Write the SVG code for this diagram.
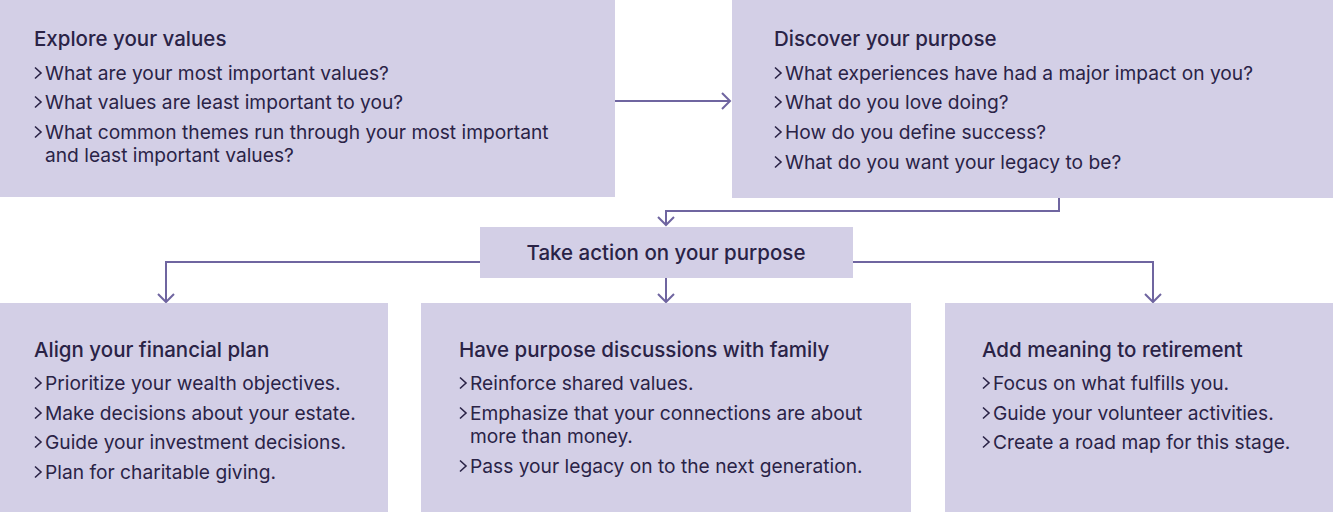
<svg xmlns="http://www.w3.org/2000/svg" width="1333" height="512" viewBox="0 0 1333 512">
<style>
.box{fill:#d3cfe6}
.t{font-family:Inter,"Noto Sans",sans-serif;font-size:20.5px;font-weight:500;fill:#2a2346}
.i{font-family:Inter,"Noto Sans",sans-serif;font-size:19.2px;fill:#2a2346}
.v{fill:none;stroke:#2a2346;stroke-width:1.6}
.c{fill:none;stroke:#6f65a0;stroke-width:2}
</style>
<defs>
<marker id="a" markerWidth="20" markerHeight="20" refX="10" refY="10" orient="auto" markerUnits="userSpaceOnUse"><path d="M2,2 L10,10 L2,18" fill="none" stroke="#6f65a0" stroke-width="2"/></marker>
<path id="ch" d="M0,-12.5 L6,-7 L0,-1.5"/>
</defs>
<g id="connectors">
<path class="c" d="M615,101 H730" marker-end="url(#a)"/>
<path class="c" d="M1059,198 V211 H666 V225" marker-end="url(#a)"/>
<path class="c" d="M480,262 H166 V302" marker-end="url(#a)"/>
<path class="c" d="M666,278 V302" marker-end="url(#a)"/>
<path class="c" d="M853,262 H1153 V302" marker-end="url(#a)"/>
</g>
<g id="explore"><rect class="box" x="0" y="0" width="615" height="197"/>
<text class="t" x="34" y="46">Explore your values</text>
<use href="#ch" class="v" x="35" y="80"/><text class="i" x="45" y="80">What are your most important values?</text>
<use href="#ch" class="v" x="35" y="109"/><text class="i" x="45" y="109">What values are least important to you?</text>
<use href="#ch" class="v" x="35" y="139"/><text class="i" x="45" y="139">What common themes run through your most important</text>
<text class="i" x="45" y="162">and least important values?</text></g>
<g id="discover"><rect class="box" x="732" y="0" width="601" height="198"/>
<text class="t" x="774" y="46">Discover your purpose</text>
<use href="#ch" class="v" x="775" y="80"/><text class="i" x="785" y="80">What experiences have had a major impact on you?</text>
<use href="#ch" class="v" x="775" y="109"/><text class="i" x="785" y="109">What do you love doing?</text>
<use href="#ch" class="v" x="775" y="139"/><text class="i" x="785" y="139">How do you define success?</text>
<use href="#ch" class="v" x="775" y="169"/><text class="i" x="785" y="169">What do you want your legacy to be?</text></g>
<g id="action"><rect class="box" x="480" y="227" width="373" height="51"/>
<text class="t" x="666" y="260" text-anchor="middle">Take action on your purpose</text></g>
<g id="align"><rect class="box" x="0" y="303" width="388" height="209"/>
<text class="t" x="34" y="357">Align your financial plan</text>
<use href="#ch" class="v" x="35" y="390"/><text class="i" x="45" y="390">Prioritize your wealth objectives.</text>
<use href="#ch" class="v" x="35" y="420"/><text class="i" x="45" y="420">Make decisions about your estate.</text>
<use href="#ch" class="v" x="35" y="449"/><text class="i" x="45" y="449">Guide your investment decisions.</text>
<use href="#ch" class="v" x="35" y="479"/><text class="i" x="45" y="479">Plan for charitable giving.</text></g>
<g id="family"><rect class="box" x="421" y="303" width="490" height="209"/>
<text class="t" x="459" y="357">Have purpose discussions with family</text>
<use href="#ch" class="v" x="460" y="390"/><text class="i" x="470" y="390">Reinforce shared values.</text>
<use href="#ch" class="v" x="460" y="420"/><text class="i" x="470" y="420">Emphasize that your connections are about</text>
<text class="i" x="470" y="443">more than money.</text>
<use href="#ch" class="v" x="460" y="473"/><text class="i" x="470" y="473">Pass your legacy on to the next generation.</text></g>
<g id="retire"><rect class="box" x="945" y="303" width="388" height="209"/>
<text class="t" x="982" y="357">Add meaning to retirement</text>
<use href="#ch" class="v" x="983" y="390"/><text class="i" x="993" y="390">Focus on what fulfills you.</text>
<use href="#ch" class="v" x="983" y="420"/><text class="i" x="993" y="420">Guide your volunteer activities.</text>
<use href="#ch" class="v" x="983" y="449"/><text class="i" x="993" y="449">Create a road map for this stage.</text></g>
</svg>
